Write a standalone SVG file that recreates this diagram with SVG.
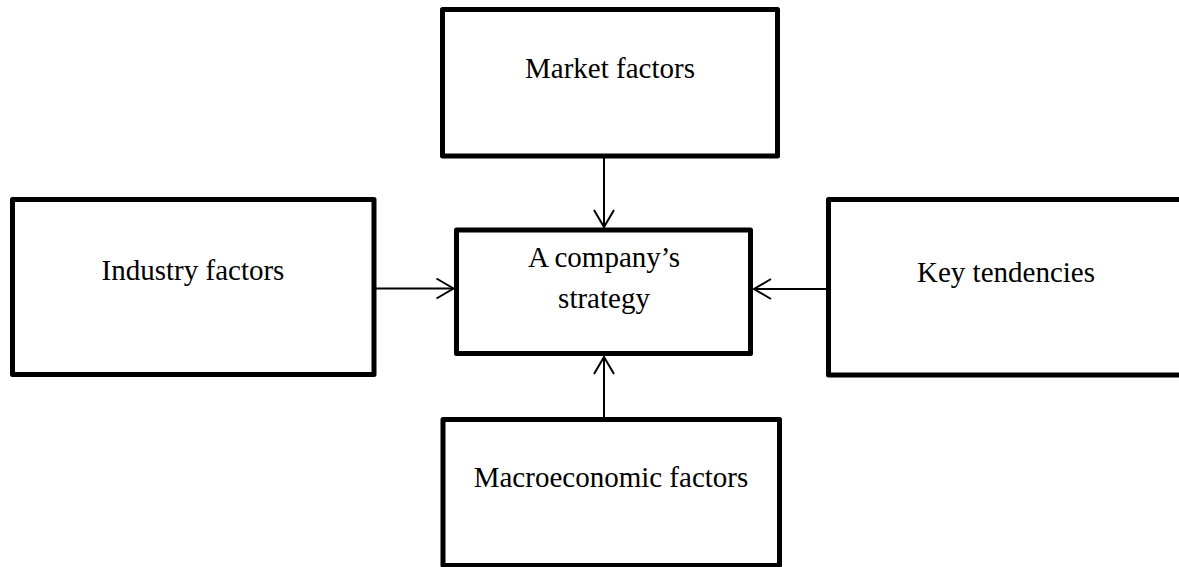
<svg xmlns="http://www.w3.org/2000/svg" width="1179" height="567" viewBox="0 0 1179 567">
  <style>
    .box { fill: #ffffff; stroke: #000000; stroke-width: 5; stroke-linejoin: round; }
    .lbl { font-family: "Liberation Serif", "Times New Roman", serif; font-size: 29px; fill: #000000; text-anchor: middle; }
    .conn { stroke: #000000; stroke-width: 2; fill: none; }
  </style>
  <defs>
    <marker id="arrow" viewBox="-19 -12 21 24" markerWidth="21" markerHeight="24" refX="0" refY="0" markerUnits="userSpaceOnUse" orient="auto">
      <path d="M-17,-10 L0,0 L-17,10" fill="none" stroke="#000000" stroke-width="2"/>
    </marker>
  </defs>
  <rect width="1179" height="567" fill="#ffffff"/>

  <g id="connectors">
    <line class="conn" x1="604" y1="158" x2="604" y2="227" marker-end="url(#arrow)"/>
    <line class="conn" x1="376" y1="288.5" x2="453.5" y2="288.5" marker-end="url(#arrow)"/>
    <line class="conn" x1="826" y1="289" x2="754" y2="289" marker-end="url(#arrow)"/>
    <line class="conn" x1="604" y1="417" x2="604" y2="357" marker-end="url(#arrow)"/>
  </g>

  <g id="node-market">
    <rect class="box" x="442.5" y="9.5" width="335" height="146.5"/>
    <text class="lbl" x="610" y="78">Market factors</text>
  </g>

  <g id="node-industry">
    <rect class="box" x="12.5" y="199.5" width="361.5" height="175"/>
    <text class="lbl" x="193" y="280">Industry factors</text>
  </g>

  <g id="node-strategy">
    <rect class="box" x="456.5" y="230" width="294" height="123.5"/>
    <text class="lbl" x="604" y="267">A company’s</text>
    <text class="lbl" x="604" y="308">strategy</text>
  </g>

  <g id="node-tendencies">
    <rect class="box" x="828.5" y="199.5" width="360" height="175.5"/>
    <text class="lbl" x="1006" y="281.5">Key tendencies</text>
  </g>

  <g id="node-macro">
    <rect class="box" x="443" y="419.5" width="336.5" height="146"/>
    <text class="lbl" x="611" y="487">Macroeconomic factors</text>
  </g>
</svg>
